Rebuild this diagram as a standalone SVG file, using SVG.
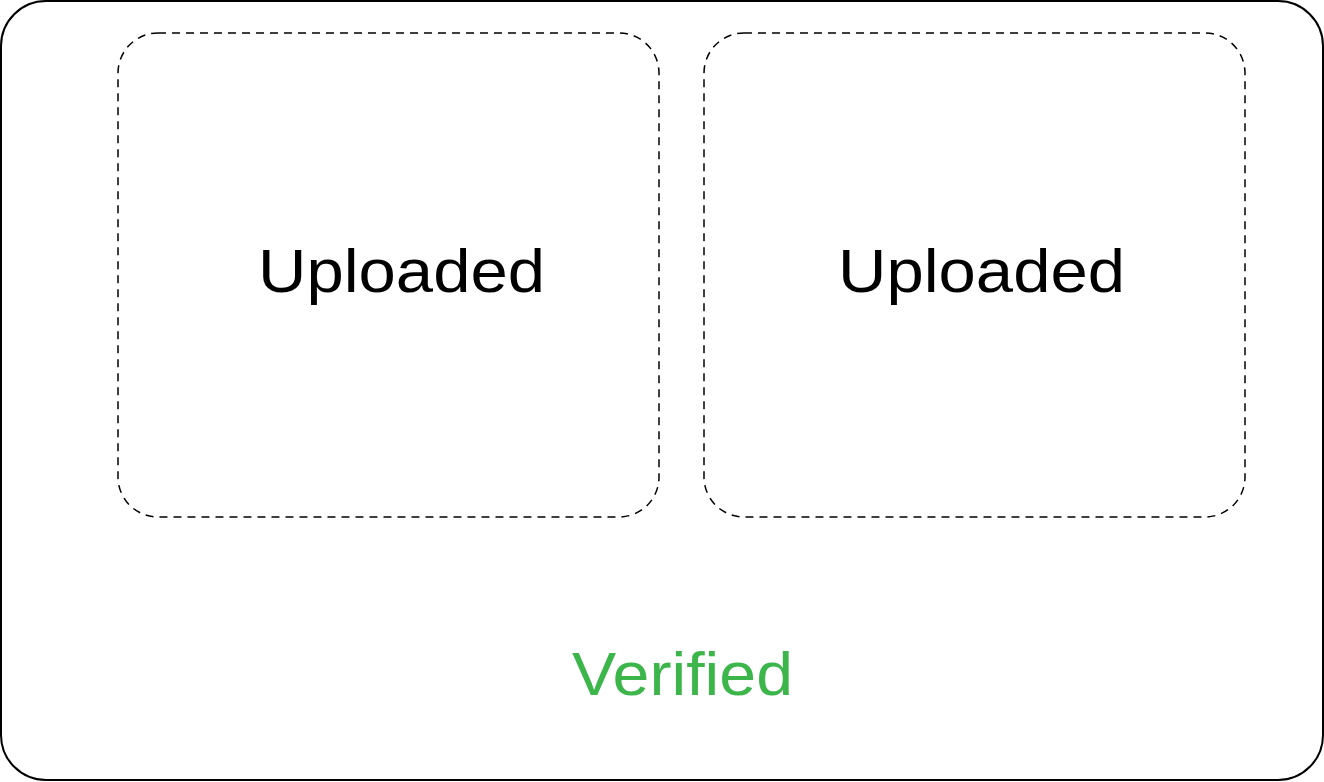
<svg xmlns="http://www.w3.org/2000/svg" width="1324" height="782" viewBox="0 0 1324 782">
<style>
.outer{fill:#fff;stroke:#000;stroke-width:2}
.box{fill:none;stroke:#000;stroke-width:1.5;stroke-dasharray:8 6}
.lbl{font-family:"Liberation Sans",Arial,sans-serif;font-size:61px;fill:#000}
.ver{font-family:"Liberation Sans",Arial,sans-serif;font-size:61px;fill:#3cb64b}
</style>
<g id="verified">
<rect class="outer" x="1" y="1" width="1322" height="779" rx="45" ry="45"/>
<text class="ver" x="572" y="695" textLength="221" lengthAdjust="spacingAndGlyphs">Verified</text>
</g>
<g id="uploaded1">
<rect class="box" x="118" y="33" width="541" height="484" rx="40" ry="40"/>
<text class="lbl" x="258" y="292" textLength="287" lengthAdjust="spacingAndGlyphs">Uploaded</text>
</g>
<g id="uploaded2">
<rect class="box" x="704" y="33" width="541" height="484" rx="40" ry="40"/>
<text class="lbl" x="838" y="292" textLength="287" lengthAdjust="spacingAndGlyphs">Uploaded</text>
</g>
<g id="connectors"/>
</svg>
